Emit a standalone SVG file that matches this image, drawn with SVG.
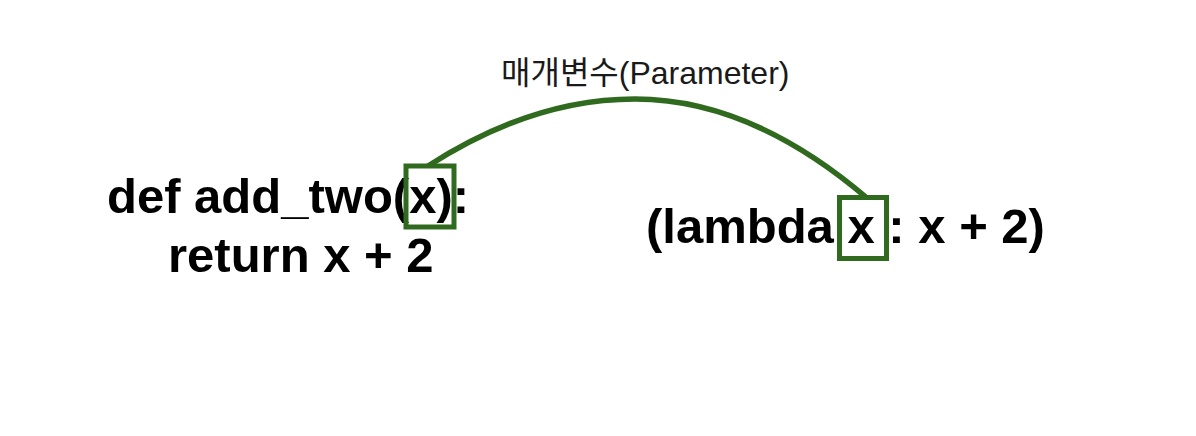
<svg xmlns="http://www.w3.org/2000/svg" width="1196" height="436" viewBox="0 0 1196 436">
<style>
.code{font-family:"Liberation Sans",Arial,sans-serif;font-weight:bold;font-size:49px;fill:#000}
.lbl{font-family:"Liberation Sans","Noto Sans CJK KR",sans-serif;font-size:32px;fill:#1a1a1a}
.box{fill:none;stroke:#2f6a1f;stroke-width:5}
.link{fill:none;stroke:#2f6a1f;stroke-width:5.5}
</style>
<rect width="1196" height="436" fill="#fff"/>
<g id="connectors">
<path class="link" d="M428,166 Q532,99 635,99 Q751,99 867,198"/>
</g>
<g id="label">
<text class="lbl" x="501" y="84">매개변수(Parameter)</text>
</g>
<g id="def-node">
<text class="code" x="107" y="213">def add_two(x):</text>
<text class="code" x="168" y="272">return x + 2</text>
<rect class="box" x="406" y="166" width="48" height="61"/>
</g>
<g id="lambda-node">
<text class="code" x="646" y="243">(lambda x : x + 2)</text>
<rect class="box" x="839.5" y="197.5" width="47" height="61"/>
</g>
</svg>
